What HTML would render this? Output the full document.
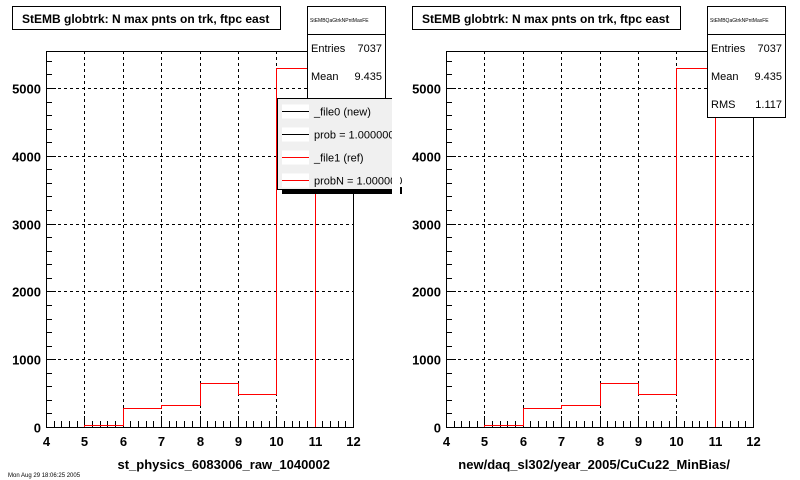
<!DOCTYPE html>
<html><head><meta charset="utf-8"><style>body{margin:0;background:#fff}svg{display:block;font-family:"Liberation Sans",Arial,sans-serif}line,rect,path{shape-rendering:crispEdges}</style></head>
<body>
<svg id="c" width="800" height="480" viewBox="0 0 800 480"></svg>
<script>
const binEdges=[4,5,6,7,8,9,10,11,12];
const newCounts=[0,30,280,325,650,487,5295,0];
const refCounts=[0,30,280,325,650,487,5295,0];
const xTicks=[4,5,6,7,8,9,10,11,12];
const yTicks=[0,1000,2000,3000,4000,5000];
const xLabels=["st_physics_6083006_raw_1040002","new/daq_sl302/year_2005/CuCu22_MinBias/"];
const statsNames=["Entries","Mean","RMS"];
const statsVals=["7037","9.435","1.117"];
const NS="http://www.w3.org/2000/svg";
const svg=document.getElementById('c');
function mk(t,a,p){const e=document.createElementNS(NS,t);for(const k in a)e.setAttribute(k,a[k]);(p||svg).appendChild(e);return e;}
function panel(ox,idx){
  const g=mk('g',{});
  
  
  const L=ox+46,R=ox+353,T=51,B=427,xmin=4,xmax=12,ymax=5546;
  const X=v=>Math.round(L+(v-xmin)/(xmax-xmin)*(R-L))+0.5;
  const Y=v=>Math.round(B-v/ymax*(B-T))+0.5;
  xTicks.slice(1,-1).forEach(v=>{const l=mk('line',{x1:X(v),x2:X(v),y1:T,y2:B,stroke:'#000','stroke-dasharray':'3,3','stroke-width':1},g);});
  yTicks.slice(1).forEach(v=>{const l=mk('line',{x1:L,x2:R,y1:Y(v),y2:Y(v),stroke:'#000','stroke-dasharray':'3,3','stroke-width':1},g);});
  for(let v=4;v<=12.001;v+=0.2){const big=Math.abs(v-Math.round(v))<0.01;mk('line',{x1:X(v),x2:X(v),y1:B,y2:B-(big?11:6),stroke:'#000'},g);}
  for(let v=0;v<=ymax;v+=200){const big=v%1000===0;mk('line',{x1:L,x2:L+(big?10:6),y1:Y(v),y2:Y(v),stroke:'#000'},g);}
  function hist(arr,col,name){let d='M'+X(binEdges[0])+' '+Y(0);arr.forEach((c,i)=>{d+=' L'+X(binEdges[i])+' '+Y(c)+' L'+X(binEdges[i+1])+' '+Y(c);});d+=' L'+X(binEdges[binEdges.length-1])+' '+Y(0);const p=mk('path',{d:d,fill:'none',stroke:col,'stroke-width':1},g);}
  hist(newCounts,'#000','histogram-new');
  hist(refCounts,'#f00','histogram-ref');
  const fr=mk('rect',{x:L+0.5,y:T+0.5,width:R-L,height:B-T,fill:'none',stroke:'#000'},g);
  
  xTicks.forEach(v=>{const t=mk('text',{x:X(v),y:B+19,'text-anchor':'middle','font-size':13,'font-weight':'bold'},g);t.textContent=v;});
  yTicks.forEach(v=>{const t=mk('text',{x:L-5,y:Y(v)+5,'text-anchor':'end','font-size':13,'font-weight':'bold'},g);t.textContent=v;});
  const xt=mk('text',{x:R-23,y:469,'text-anchor':'end','font-size':13,'font-weight':'bold'},g);xt.textContent=xLabels[idx];
  
  const tb=mk('rect',{x:ox+12.5,y:6.5,width:268,height:23,fill:'#fff',stroke:'#000'},g);
  
  const tt=mk('text',{x:ox+22,y:23,'font-size':12,'font-weight':'bold'},g);tt.textContent='StEMB globtrk: N max pnts on trk, ftpc east';
  
  const sb=mk('rect',{x:ox+307.5,y:6.5,width:78,height:111,fill:'#fff',stroke:'#000'},g);
  
  mk('line',{x1:ox+307,x2:ox+385,y1:34.5,y2:34.5,stroke:'#000'},g);
  const sh=mk('text',{x:ox+310,y:22,'font-size':5},g);sh.textContent='StEMBQaGtrkNPntMaxFE';
  statsNames.forEach((n,i)=>{const y=52+i*28;const a=mk('text',{x:ox+311,y:y,'font-size':11},g);a.textContent=n;const b=mk('text',{x:ox+382,y:y,'font-size':11,'text-anchor':'end'},g);b.textContent=statsVals[i];});
  if(idx===0){
    const lg=mk('g',{},g);
    mk('rect',{x:282,y:187,width:120,height:7,fill:'#000'},lg);
    mk('rect',{x:277.5,y:98.5,width:120,height:91,fill:'#f0f0f0',stroke:'#000'},lg);
    const ents=[['_file0 (new)','#000'],['prob = 1.000000','#000'],['_file1 (ref)','#f00'],['probN = 1.000000','#f00']];
    ents.forEach((e,i)=>{const y=111.5+i*23;mk('rect',{x:282,y:y-7,width:27,height:14,fill:'#fff'},lg);mk('line',{x1:282,x2:309,y1:y,y2:y,stroke:e[1]},lg);const t=mk('text',{x:314,y:y+4,'font-size':11},lg);t.textContent=e[0];});
  }
}
panel(0,0);panel(400,1);
mk('rect',{x:392,y:90,width:8,height:110,fill:'#fff'});
const ft=mk('text',{x:8,y:477,'font-size':6,fill:'#000'});ft.textContent='Mon Aug 29 18:06:25 2005';

</script>
</body></html>
